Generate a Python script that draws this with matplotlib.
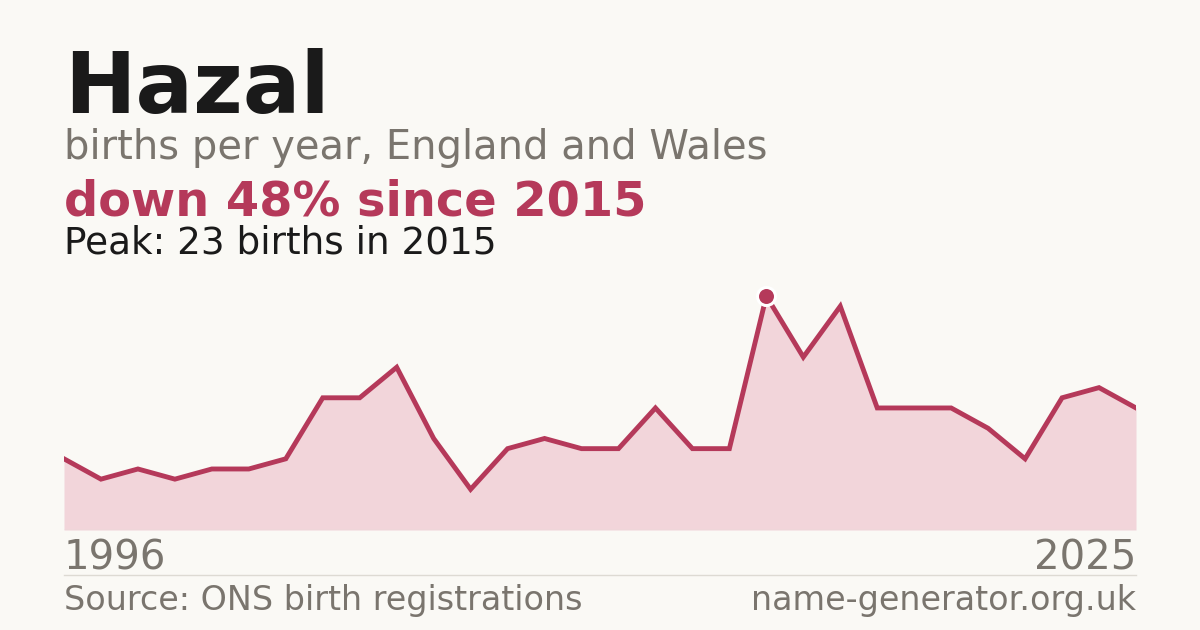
import numpy as np
import matplotlib.pyplot as plt

plt.rcParams['font.family'] = ['DejaVu Sans']

# births per year for the name Hazal
years = list(range(1996, 2026))
births = [7, 5, 6, 5, 6, 6, 7, 13, 13, 16, 9, 4, 8, 9, 8, 8, 12, 8, 8, 23,
          17, 22, 12, 12, 12, 10, 7, 13, 14, 12]

name = "Hazal"
subtitle = "births per year, England and Wales"
source = "Source: ONS birth registrations"
site = "name-generator.org.uk"

bg = "#faf9f5"
red = "#b5395a"
fill_col = "#f2d5da"
grey = "#7a756e"
dark = "#1a1a1a"

W, H = 1200, 630
fig = plt.figure(figsize=(W / 100, H / 100), dpi=100, facecolor=bg)

def fy(px):
    return 1 - px / H

peak_i = int(np.argmax(births))
peak_year = years[peak_i]
peak_val = births[peak_i]
change = round((births[-1] - peak_val) / peak_val * 100)

fig.text(64 / W, fy(113), name, fontsize=61.5, fontweight="bold", color=dark, va="baseline")
fig.text(64 / W, fy(159), subtitle, fontsize=28.8, color=grey, va="baseline")
fig.text(64 / W, fy(215), f"down {abs(change)}% since {peak_year}", fontsize=34.5,
         fontweight="bold", color=red, va="baseline")
fig.text(64 / W, fy(253), f"Peak: {peak_val} births in {peak_year}", fontsize=26.9,
         color=dark, va="baseline")

# chart area: x 64..1136, baseline at y=530
top_px = 270
ax = fig.add_axes([64 / W, fy(530), (1136 - 64) / W, (530 - top_px) / H])
ax.set_facecolor(bg)
ax.set_xlim(years[0], years[-1])
ax.set_ylim(0, (530 - top_px) / 10.17)
ax.fill_between(years, births, 0, color=fill_col, lw=0)
ax.plot(years, births, color=red, lw=3.5, solid_joinstyle="miter")
ax.plot([peak_year], [peak_val], "o", ms=13, mfc=red, mec="white", mew=2.2, clip_on=False, zorder=5)
ax.axhline(0, color="#e3dfd8", lw=1)
ax.axis("off")

fig.text(64 / W, fy(570), str(years[0]), fontsize=28.9, color=grey, va="baseline")
fig.text(1136 / W, fy(570), str(years[-1]), fontsize=28.9, color=grey, va="baseline", ha="right")

fig.add_artist(plt.Line2D([64 / W, 1136 / W], [fy(575), fy(575)], color="#dddad3", lw=1))

fig.text(64 / W, fy(610), source, fontsize=24, color=grey, va="baseline")
fig.text(1136 / W, fy(610), site, fontsize=24, color=grey, va="baseline", ha="right")

fig.savefig("out.png", dpi=100, facecolor=bg)
